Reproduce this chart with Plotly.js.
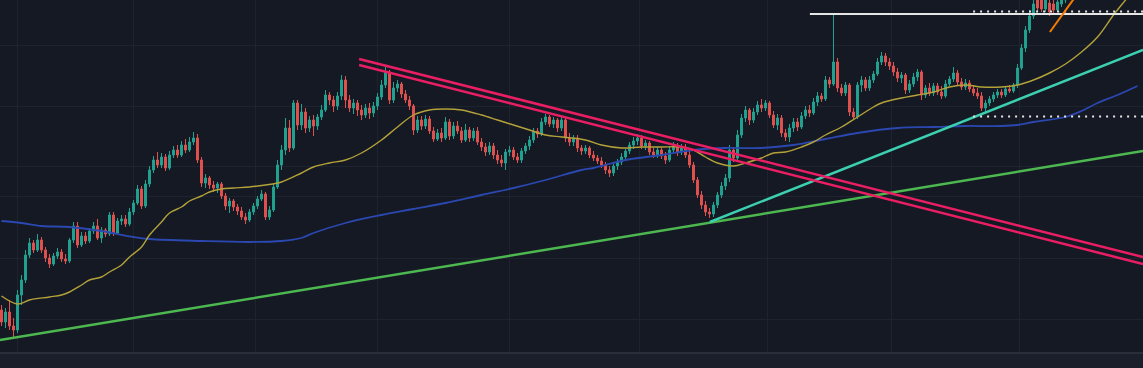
<!DOCTYPE html>
<html>
<head>
<meta charset="utf-8">
<script src="https://cdn.plot.ly/plotly-3.0.1.min.js"></script>
<style>html,body{margin:0;padding:0;background:#1b1f2b;}#chart{width:1143px;height:368px;}</style>
</head>
<body>
<div id="chart"></div>
<script>
// Candle OHLC values (arbitrary price units)
const openP = [
42,30,40,26,22,57,72,97,109,102,
112,102,94,88,96,100,93,91,112,126,
107,116,111,121,126,114,122,118,137,119,
131,133,128,140,149,163,146,168,182,192,
187,195,184,197,202,197,207,202,210,214,
192,169,174,167,164,168,156,146,151,145,
141,135,132,140,146,153,158,135,142,165,
187,202,224,204,249,227,240,224,232,226,
235,242,257,252,246,256,272,252,244,249,
242,237,244,239,246,255,267,280,252,264,
268,258,252,246,222,232,226,233,221,213,
219,214,230,216,226,221,212,222,214,221,
210,205,200,206,197,192,189,200,202,195,
192,201,206,212,221,218,230,235,228,232,
224,232,214,210,214,204,201,204,197,194,
191,187,182,179,186,190,195,201,207,211,
214,206,209,200,197,202,196,192,202,206,
200,205,197,187,172,157,147,140,138,147,
157,166,174,202,194,217,234,242,232,240,
247,244,249,237,227,234,219,215,224,230,
225,236,242,239,250,256,253,272,268,290,
264,259,267,240,235,267,272,264,272,278,
290,296,290,286,280,274,277,262,268,275,
280,257,264,259,266,260,256,268,273,279,
270,265,269,263,259,256,244,249,253,257,
260,257,263,261,267,284,304,322,336,356,
352,343,349,348,342,348,352];
const highP = [
47,44,52,34,62,77,102,114,112,118,
115,105,98,99,104,103,98,114,130,130,
120,120,124,130,133,125,124,140,140,134,
137,137,144,152,167,166,172,186,196,200,
199,198,201,206,207,211,213,215,220,218,
195,178,176,171,170,170,159,154,153,148,
145,139,143,149,156,162,160,146,168,192,
207,234,232,252,252,248,244,236,237,238,
247,262,260,256,260,277,276,257,253,252,
247,248,249,250,259,272,287,282,270,272,
270,262,256,248,236,236,237,236,225,223,
224,235,233,230,231,225,228,225,224,225,
214,209,210,209,202,197,203,206,205,199,
204,209,216,224,224,234,238,237,235,234,
235,235,219,217,217,207,207,206,201,197,
195,190,186,189,193,199,203,210,215,218,
217,212,211,204,205,204,200,206,210,209,
208,208,202,190,175,161,151,144,150,160,
170,178,207,205,222,238,246,244,244,251,
253,252,251,241,238,237,223,228,234,234,
240,246,247,254,260,259,276,275,337,294,
268,270,269,244,270,276,275,276,281,294,
300,299,294,290,284,280,279,272,279,283,
282,267,269,269,269,266,272,276,285,282,
274,273,272,267,264,260,252,256,260,263,
263,266,267,269,288,308,326,342,354,360,
357,358,354,352,356,360,362];
const lowP = [
26,24,22,15,19,47,69,94,99,100,
99,90,84,86,93,90,88,89,109,104,
105,108,109,118,112,109,115,116,116,117,
127,125,126,137,147,143,144,165,179,184,
184,181,182,194,194,195,199,200,207,189,
165,164,163,160,159,153,142,139,141,137,
132,128,130,137,143,151,132,132,140,163,
182,197,200,202,222,222,219,220,216,222,
232,240,247,240,242,252,244,240,238,236,
232,234,233,235,242,252,264,248,249,260,
254,249,242,217,219,222,223,218,210,211,
210,212,212,213,218,209,210,210,211,207,
201,196,197,193,188,185,182,196,192,189,
189,198,202,209,214,216,227,225,224,220,
221,210,206,206,200,197,198,194,191,188,
184,178,175,176,182,187,192,198,203,207,
203,202,197,194,194,193,188,190,199,196,
197,194,184,169,154,143,136,134,135,144,
154,162,170,190,192,214,230,227,229,237,
240,241,234,224,222,215,211,210,220,221,
223,233,235,237,246,250,251,264,266,260,
256,256,236,232,233,260,261,261,269,276,
287,286,282,276,270,269,258,259,265,271,
252,254,256,256,257,253,254,266,270,266,
262,262,260,256,253,241,239,246,250,254,
254,255,259,259,264,282,300,319,333,341,
340,340,336,339,340,345,349];
const closeP = [
30,40,26,22,57,72,97,109,102,112,
102,94,88,96,100,93,91,112,126,107,
116,111,121,126,114,122,118,137,119,131,
133,128,140,149,163,146,168,182,192,187,
195,184,197,202,197,207,202,210,214,192,
169,174,167,164,168,156,146,151,145,141,
135,132,140,146,153,158,135,142,165,187,
202,224,204,249,227,240,224,232,226,235,
242,257,252,246,256,272,252,244,249,242,
237,244,239,246,255,267,280,252,264,268,
258,252,246,222,232,226,233,221,213,219,
214,230,216,226,221,212,222,214,221,210,
205,200,206,197,192,189,200,202,195,192,
201,206,212,221,218,230,235,228,232,224,
232,214,210,214,204,201,204,197,194,191,
187,182,179,186,190,195,201,207,211,214,
206,209,200,197,202,196,192,202,206,200,
205,197,187,172,157,147,140,138,147,157,
166,174,202,194,217,234,242,232,240,247,
244,249,237,227,234,219,215,224,230,225,
236,242,239,250,256,253,272,268,290,264,
259,267,240,235,267,272,264,272,278,290,
296,290,286,280,274,277,262,268,275,280,
257,264,259,266,260,256,268,273,279,270,
265,269,263,259,256,244,249,253,257,260,
257,263,261,267,284,304,322,336,348,344,
343,352,340,342,350,355,358];

// Moving averages (sampled at candle indices)
const maFastX = [0,4,7,12,15,17,20,22,25,27,30,32,35,37,40,42,45,47,50,52,55,58,62,66,70,75,78,82,86,90,95,99,103,107,111,115,120,124,128,132,136,140,146,150,155,160,165,170,173,176,179,183,186,190,193,196,200,203,206,210,214,218,220,225,229,233,237,241,245,250,254,258,262,266,270,274,278,281,283];
const maFastY = [56,48,52,55,57,60,67,72,75,80,87,95,105,117,130,139,145,151,156,160,163,164,165,167,170,179,185,189,192,199,212,225,237,242,243,242,237,232,227,222,217,215,212,207,204,205,205,205,202,195,189,186,189,194,199,200,205,210,217,225,235,245,249,254,257,260,265,267,265,265,267,272,279,288,300,315,337,352,362];
const maSlowX = [0,5,10,17,25,33,37,50,62,70,75,78,86,95,103,111,120,128,136,145,148,156,165,173,181,190,198,206,214,224,233,241,250,254,258,266,270,274,279,284];
const maSlowY = [131,129,126,125,121,115,113,111,110,111,114,119,129,137,143,149,157,164,172,182,184,192,197,202,204,204,207,213,219,224,225,226,226,227,230,235,241,249,257,266];

// Drawn trend lines and levels (endpoints)
const greenLineX = [-0.375, 285.375], greenLineY = [12, 201];
const tealLineX = [177.1, 285.375], tealLineY = [130, 302];
const pinkUpperX = [89.4, 285.375], pinkUpperY = [293, 95];
const pinkLowerX = [89.4, 285.375], pinkLowerY = [287, 88];
const levelSolidX = [202.1, 285.375], levelSolidY = [338, 338];
const levelDotTopX = [242.9, 285.375], levelDotTopY = [340.5, 340.5];
const levelDotLowX = [242.9, 285.375], levelDotLowY = [235.5, 235.5];
const orangeX = [262.1, 268.6], orangeY = [320, 356];

// Grid positions
const gridX = [4.1, 32.9, 63.4, 94.1, 127.1, 159.6, 191.4, 222.4, 254.4];
const gridY = [33, 94, 156, 186, 246, 307];

const idx = openP.map((_, i) => i);

function line(x, y, color, width, dash, shape) {
  return {type:'scatter', mode:'lines', x:x, y:y, hoverinfo:'skip',
    line:{color:color, width:width, dash:dash||'solid', shape:shape||'linear'}};
}

const traces = [
  line(maSlowX, maSlowY, '#2a48b0', 1.8, 'solid', 'spline'),
  line(maFastX, maFastY, '#b3a23a', 1.4, 'solid', 'spline'),
  line(greenLineX, greenLineY, '#4cb84f', 2.5),
  {
    type:'candlestick', x:idx, open:openP, high:highP, low:lowP, close:closeP,
    increasing:{line:{color:'#22a190', width:1}, fillcolor:'#22a190'},
    decreasing:{line:{color:'#e0524f', width:1}, fillcolor:'#e0524f'},
    whiskerwidth:0, hoverinfo:'skip'
  },
  line(tealLineX, tealLineY, '#3ccfb0', 2.5),
  line(pinkUpperX, pinkUpperY, '#e91e63', 2.5),
  line(pinkLowerX, pinkLowerY, '#e91e63', 2.5),
  line(levelSolidX, levelSolidY, '#e6e6e6', 2),
  line(levelDotTopX, levelDotTopY, '#e6e6e6', 2.2, '2px,5px'),
  line(levelDotLowX, levelDotLowY, '#e6e6e6', 2.2, '2px,5px'),
  line(orangeX, orangeY, '#f57c00', 2)
];

const layout = {
  width:1143, height:368,
  margin:{l:0, r:0, t:0, b:16, pad:0},
  paper_bgcolor:'#1b1f2b', plot_bgcolor:'#151924',
  showlegend:false, hovermode:false,
  xaxis:{range:[-0.375, 285.375], tickvals:gridX, showticklabels:false, ticks:'',
    showgrid:true, gridcolor:'#1f2330', gridwidth:1, zeroline:false,
    showline:true, linecolor:'#2a2e3a', linewidth:1.5, rangeslider:{visible:false}, fixedrange:true},
  yaxis:{range:[0, 352], tickvals:gridY, showticklabels:false, ticks:'',
    showgrid:true, gridcolor:'#1f2330', gridwidth:1, zeroline:false, showline:false, fixedrange:true}
};

Plotly.newPlot('chart', traces, layout, {staticPlot:true, displayModeBar:false});
</script>
</body>
</html>
